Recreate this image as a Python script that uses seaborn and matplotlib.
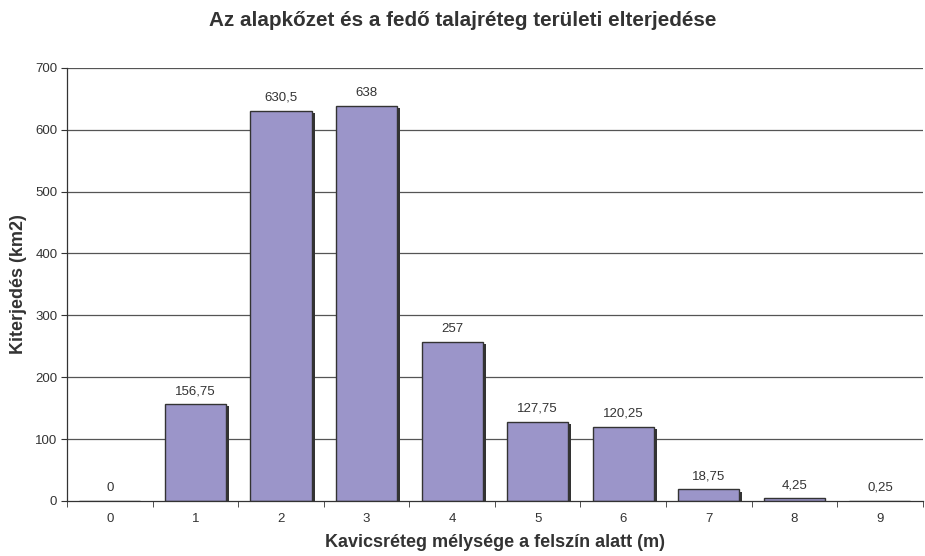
import pandas as pd
import seaborn as sns
import matplotlib.pyplot as plt
import matplotlib.patheffects as pe

# Data
depths = ["0", "1", "2", "3", "4", "5", "6", "7", "8", "9"]
areas = [0, 156.75, 630.5, 638, 257, 127.75, 120.25, 18.75, 4.25, 0.25]

df = pd.DataFrame({"depth": depths, "area": areas})

sns.set_style("white")
plt.rcParams['font.family'] = ['Liberation Sans', 'DejaVu Sans']
text_col = '#333333'

fig = plt.figure(figsize=(9.25, 5.56), dpi=100)
ax = fig.add_axes([0.0725, 0.099, 0.925, 0.779])

ax.set_axisbelow(True)
for v in range(100, 800, 100):
    ax.axhline(v, color='#555555', lw=0.9, zorder=0)

sns.barplot(data=df, x="depth", y="area", color='#9b95c9', saturation=1,
            width=0.715, edgecolor='#333333', linewidth=1.0, ax=ax, zorder=2)

# dark drop shadow on the right side of each bar
shadow = [pe.SimplePatchShadow(offset=(2.2, -1.6), shadow_rgbFace='#333333', alpha=1.0),
          pe.Normal()]
for p in ax.patches:
    p.set_path_effects(shadow)

for i, v in enumerate(areas):
    lbl = f"{v:g}".replace('.', ',')
    ax.annotate(lbl, (i, v), xytext=(0, 5), textcoords='offset points',
                ha='center', va='bottom', fontsize=9.5, color=text_col)

ax.set_ylim(0, 700)
ax.set_xlim(-0.5, 9.5)
ax.set_yticks(range(0, 800, 100))

for s in ['top', 'right']:
    ax.spines[s].set_visible(False)
for s in ['left', 'bottom']:
    ax.spines[s].set_color('#333333')
    ax.spines[s].set_linewidth(0.9)

# ticks between categories on x, outward
ax.set_xticks([i + 0.5 for i in range(-1, 10)], minor=True)
ax.tick_params(axis='x', which='minor', length=4, color='#333333', direction='out', bottom=True)
ax.tick_params(axis='x', which='major', length=0, pad=9, labelsize=9.5, labelcolor=text_col)
ax.tick_params(axis='y', length=4, color='#333333', direction='out', left=True,
               labelsize=9.5, labelcolor=text_col, pad=3)

ax.set_xlabel("Kavicsréteg mélysége a felszín alatt (m)", fontsize=13, fontweight='bold',
              color=text_col, labelpad=6)
ax.set_ylabel("Kiterjedés (km2)", fontsize=13, fontweight='bold', color=text_col, labelpad=6)
fig.text(0.5005, 0.964, "Az alapkőzet és a fedő talajréteg területi elterjedése", fontsize=14.9,
         fontweight='bold', color=text_col, ha='center', va='center')

fig.savefig("out.png", dpi=100)
